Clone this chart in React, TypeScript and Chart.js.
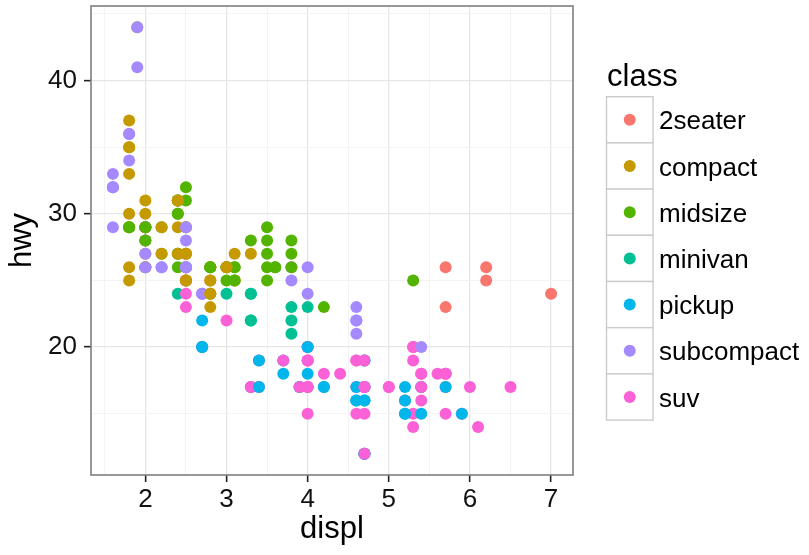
import React, { useEffect, useRef } from 'react';
import { Chart, registerables } from 'chart.js';

Chart.register(...registerables);

// ---- data (ggplot2 mpg: displ vs hwy, coloured by class) ----
const CLASSES = ['2seater', 'compact', 'midsize', 'minivan', 'pickup', 'subcompact', 'suv'];
const CLASS_COLORS = ['#F8766D', '#C49A00', '#53B400', '#00C094', '#00B6EB', '#A58AFF', '#FB61D7'];

const displ = [
  1.8, 1.8, 2.0, 2.0, 2.8, 2.8, 3.1,
  1.8, 1.8, 2.0, 2.0, 2.8, 2.8, 3.1, 3.1,
  2.8, 3.1, 4.2,
  5.3, 5.3, 5.3, 5.7, 6.0,
  5.7, 5.7, 6.2, 6.2, 7.0,
  5.3, 5.3, 5.7, 6.5,
  2.4, 2.4, 3.1, 3.5, 3.6,
  2.4, 3.0, 3.3, 3.3, 3.3, 3.3, 3.3, 3.8, 3.8, 3.8, 4.0,
  3.7, 3.7, 3.9, 3.9, 4.7, 4.7, 4.7, 5.2, 5.2,
  3.9, 4.7, 4.7, 4.7, 5.2, 5.7, 5.9,
  4.7, 4.7, 4.7, 4.7, 4.7, 4.7, 5.2, 5.2, 5.7, 5.9,
  4.6, 5.4, 5.4,
  4.0, 4.0, 4.0, 4.0, 4.6, 5.0,
  4.2, 4.2, 4.6, 4.6, 4.6, 5.4, 5.4,
  3.8, 3.8, 4.0, 4.0, 4.6, 4.6, 4.6, 4.6, 5.4,
  1.6, 1.6, 1.6, 1.6, 1.6, 1.8, 1.8, 1.8, 2.0,
  2.4, 2.4, 2.4, 2.4, 2.5, 2.5, 3.3,
  2.0, 2.0, 2.0, 2.0, 2.7, 2.7, 2.7,
  3.0, 3.7, 4.0, 4.7, 4.7, 4.7, 5.7, 6.1,
  4.0, 4.2, 4.4, 4.6,
  5.4, 5.4, 5.4,
  4.0, 4.0, 4.6, 5.0,
  2.4, 2.4,
  2.5, 2.5, 3.5, 3.5, 3.0, 3.0, 3.5,
  3.3, 3.3, 4.0, 5.6,
  3.1, 3.8, 3.8, 3.8, 5.3,
  2.5, 2.5, 2.5, 2.5, 2.5, 2.5,
  2.2, 2.2, 2.5, 2.5,
  2.5, 2.5, 2.5, 2.5,
  2.7, 2.7, 3.4, 3.4, 4.0, 4.7,
  2.2, 2.2, 2.4, 2.4, 3.0, 3.0, 3.5,
  2.2, 2.2, 2.4, 2.4, 3.0, 3.0, 3.3,
  1.8, 1.8, 1.8, 1.8, 1.8,
  4.7, 5.7,
  2.7, 2.7, 2.7, 3.4, 3.4, 4.0, 4.0,
  2.0, 2.0, 2.0, 2.0, 2.8,
  1.9, 2.0, 2.0, 2.0, 2.0, 2.5, 2.5, 2.8, 2.8,
  1.9, 1.9, 2.0, 2.0, 2.5, 2.5,
  1.8, 1.8, 2.0, 2.0, 2.8, 2.8, 3.6,
];

const hwy = [
  29, 29, 31, 30, 26, 26, 27,
  26, 25, 28, 27, 25, 25, 25, 25,
  24, 25, 23,
  20, 15, 20, 17, 17,
  26, 23, 26, 25, 24,
  19, 14, 15, 17,
  27, 30, 26, 29, 26,
  24, 24, 22, 22, 24, 24, 17, 22, 21, 23, 23,
  19, 18, 17, 17, 19, 19, 12, 17, 15,
  17, 17, 12, 17, 16, 18, 15,
  16, 12, 17, 17, 16, 12, 15, 16, 17, 15,
  17, 17, 18,
  17, 19, 17, 19, 19, 17,
  17, 17, 16, 16, 17, 15, 17,
  26, 25, 26, 24, 21, 22, 23, 22, 20,
  33, 32, 32, 29, 32, 34, 36, 36, 29,
  26, 27, 30, 31, 26, 26, 28,
  26, 29, 28, 27, 24, 24, 24,
  22, 19, 20, 17, 12, 19, 18, 14,
  15, 18, 18, 15,
  17, 16, 18,
  17, 19, 19, 17,
  29, 27,
  31, 32, 27, 26, 26, 25, 25,
  17, 17, 20, 18,
  26, 26, 27, 28, 25,
  25, 24, 27, 25, 26, 23,
  26, 26, 26, 26,
  25, 27, 25, 27,
  20, 20, 19, 17, 20, 17,
  29, 27, 31, 31, 26, 26, 28,
  27, 29, 31, 31, 26, 26, 27,
  30, 33, 35, 37, 35,
  15, 18,
  20, 20, 22, 17, 19, 18, 20,
  29, 26, 29, 29, 24,
  44, 29, 26, 29, 29, 29, 29, 23, 24,
  44, 41, 29, 26, 28, 29,
  29, 29, 28, 29, 26, 26, 26,
];

const classCounts: [string, number][] = [
  ['compact', 7], ['compact', 8], ['midsize', 3], ['suv', 5], ['2seater', 5], ['suv', 4],
  ['midsize', 5], ['minivan', 11], ['pickup', 9], ['suv', 7], ['pickup', 10], ['suv', 3],
  ['suv', 6], ['pickup', 7], ['subcompact', 9], ['subcompact', 9], ['midsize', 7],
  ['subcompact', 7], ['suv', 8], ['suv', 4], ['suv', 3], ['suv', 4], ['compact', 2],
  ['midsize', 7], ['suv', 4], ['midsize', 5], ['suv', 6], ['subcompact', 4], ['compact', 4],
  ['suv', 6], ['midsize', 7], ['compact', 7], ['compact', 5], ['suv', 2], ['pickup', 7],
  ['compact', 5], ['compact', 9], ['subcompact', 6], ['midsize', 7],
];
const vehicleClass: string[] = classCounts.flatMap(([c, n]) => Array(n).fill(c));

const X_TICKS = [1.5, 2, 2.5, 3, 3.5, 4, 4.5, 5, 5.5, 6, 6.5, 7];
const X_LABELED = [2, 3, 4, 5, 6, 7];
const Y_TICKS = [15, 20, 25, 30, 35, 40, 45];
const Y_LABELED = [20, 30, 40];

const FONT = '"Liberation Sans", Arial, Helvetica, sans-serif';
const TICK_SIZE = 26;
const TITLE_SIZE = 31;

const zeroPad = (s: any) => {
  s.paddingLeft = 0;
  s.paddingRight = 0;
  s.paddingTop = 0;
  s.paddingBottom = 0;
};

const panelLegendPlugin = {
  id: 'panelLegend',
  afterDraw(chart: any) {
    const { ctx, chartArea } = chart;
    ctx.save();
    // panel border
    ctx.strokeStyle = '#7f7f7f';
    ctx.lineWidth = 1.6;
    ctx.strokeRect(chartArea.left, chartArea.top, chartArea.right - chartArea.left, chartArea.bottom - chartArea.top);

    // legend
    const lx = 606.5;
    const top = 96.7;
    const kh = 46.2;
    const kw = 46.5;
    ctx.fillStyle = '#000';
    ctx.font = `${TITLE_SIZE}px ${FONT}`;
    ctx.textBaseline = 'alphabetic';
    ctx.textAlign = 'left';
    ctx.fillText('class', 607, 86);
    CLASSES.forEach((c, i) => {
      const y = top + i * kh;
      ctx.fillStyle = '#fff';
      ctx.fillRect(lx, y, kw, kh);
      ctx.strokeStyle = '#cccccc';
      ctx.lineWidth = 1.4;
      ctx.strokeRect(lx, y, kw, kh);
      ctx.beginPath();
      ctx.fillStyle = CLASS_COLORS[i];
      ctx.arc(lx + kw / 2, y + kh / 2, 6, 0, Math.PI * 2);
      ctx.fill();
      ctx.fillStyle = '#000';
      ctx.font = `${TICK_SIZE}px ${FONT}`;
      ctx.fillText(c, 659, y + kh / 2 + 9.5);
    });
    ctx.restore();
  },
};

export default function App() {
  const ref = useRef<HTMLCanvasElement>(null);

  useEffect(() => {
    const canvas = ref.current;
    if (!canvas) return;
    const pts = displ.map((x, i) => ({ x, y: hwy[i] }));
    const colors = vehicleClass.map((c) => CLASS_COLORS[CLASSES.indexOf(c)]);

    const chart = new Chart(canvas, {
      type: 'scatter',
      data: {
        datasets: [
          {
            label: 'mpg',
            data: pts,
            pointBackgroundColor: colors,
            pointBorderColor: colors,
            pointBorderWidth: 0,
            pointRadius: 6,
            pointHoverRadius: 6,
          },
        ],
      },
      options: {
        animation: false,
        responsive: false,
        events: [],
        layout: { padding: { top: 6, right: 236, bottom: 0, left: 0 } },
        plugins: { legend: { display: false }, tooltip: { enabled: false } },
        scales: {
          x: {
            type: 'linear',
            min: 1.33,
            max: 7.27,
            afterBuildTicks: (s: any) => {
              s.ticks = X_TICKS.map((v) => ({ value: v }));
            },
            afterFit: (s: any) => {
              s.height = 80;
              zeroPad(s);
            },
            border: { display: false },
            grid: {
              color: (c: any) => (X_LABELED.includes(c.tick?.value) ? '#e6e6e6' : '#f3f3f3'),
              lineWidth: (c: any) => (X_LABELED.includes(c.tick?.value) ? 1.3 : 1),
              tickColor: (c: any) => (X_LABELED.includes(c.tick?.value) ? '#222' : 'rgba(0,0,0,0)'),
              tickWidth: 1.6,
              tickLength: 7,
              drawTicks: true,
            },
            ticks: {
              autoSkip: false,
              maxRotation: 0,
              padding: 2.4,
              color: '#111',
              font: { family: FONT, size: TICK_SIZE },
              callback: (v: any) => (X_LABELED.includes(v) ? String(v) : ''),
            },
            title: {
              display: true,
              text: 'displ',
              color: '#000',
              font: { family: FONT, size: TITLE_SIZE },
              padding: { top: 0, bottom: 6.7 },
            },
          },
          y: {
            type: 'linear',
            min: 10.4,
            max: 45.6,
            afterBuildTicks: (s: any) => {
              s.ticks = Y_TICKS.map((v) => ({ value: v }));
            },
            afterFit: (s: any) => {
              s.width = 91;
              zeroPad(s);
            },
            border: { display: false },
            grid: {
              color: (c: any) => (Y_LABELED.includes(c.tick?.value) ? '#e6e6e6' : '#f3f3f3'),
              lineWidth: (c: any) => (Y_LABELED.includes(c.tick?.value) ? 1.3 : 1),
              tickColor: (c: any) => (Y_LABELED.includes(c.tick?.value) ? '#222' : 'rgba(0,0,0,0)'),
              tickWidth: 1.6,
              tickLength: 7,
              drawTicks: true,
            },
            ticks: {
              autoSkip: false,
              padding: 7,
              color: '#111',
              font: { family: FONT, size: TICK_SIZE },
              callback: (v: any) => (Y_LABELED.includes(v) ? String(v) : ''),
            },
            title: {
              display: true,
              text: 'hwy',
              color: '#000',
              font: { family: FONT, size: TITLE_SIZE },
              padding: { top: 3.7, bottom: 0 },
            },
          },
        },
      },
      plugins: [panelLegendPlugin],
    } as any);

    return () => chart.destroy();
  }, []);

  return (
    <div style={{ position: 'absolute', left: 0, top: 0, width: 809, height: 555, background: '#fff' }}>
      <canvas ref={ref} width={809} height={555} style={{ display: 'block', width: 809, height: 555 }} />
    </div>
  );
}
